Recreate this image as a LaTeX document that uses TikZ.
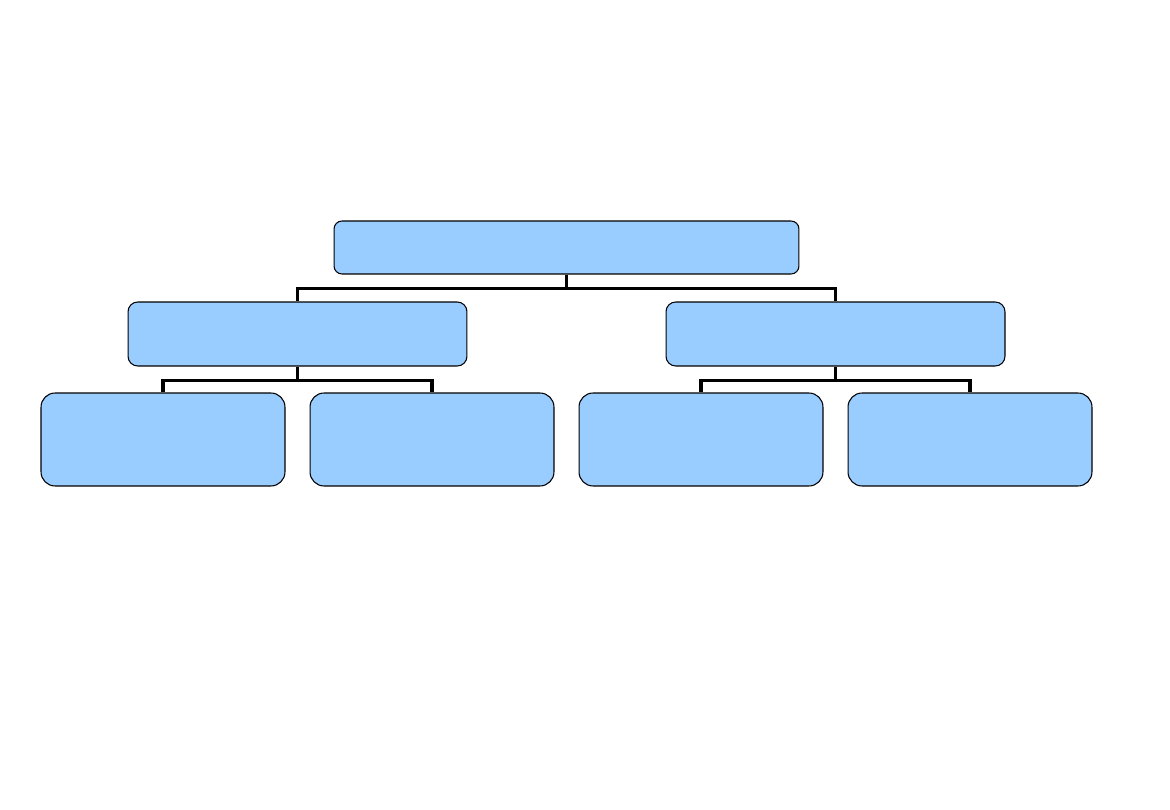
\documentclass[tikz,border=0pt]{standalone}
\usepackage{xcolor}
\definecolor{boxblue}{RGB}{153,204,255}
\usepackage{tikz}
\usetikzlibrary{positioning,calc}
\tikzset{
  unit/.style={rectangle,draw,line width=0.6pt,fill=boxblue,inner sep=0pt},
  head/.style={unit,rounded corners=4.5pt,minimum width=9.3cm,minimum height=1.06cm},
  branch/.style={unit,rounded corners=5.5pt,minimum width=6.78cm,minimum height=1.28cm},
  leaf/.style={unit,rounded corners=8pt,minimum width=4.88cm,minimum height=1.86cm},
  link/.style={draw,line width=2pt}
}
\begin{document}
\begin{tikzpicture}[x=0.02cm,y=-0.02cm]
  \useasboundingbox (0,0) rectangle (1170,810);

  \node[head] (top) at (566.5,247.5) {};
  \node[branch] (left) at (297.5,334) {};
  \node[branch] (right) at (835.5,334) {};
  \node[leaf] (la) at (163,439.5) {};
  \node[leaf] (lb) at (432,439.5) {};
  \node[leaf] (ra) at (701,439.5) {};
  \node[leaf] (rb) at (970,439.5) {};

  \draw[link] (top.south) -- ++(0,14) -| (left.north);
  \draw[link] (top.south) -- ++(0,14) -| (right.north);
  \draw[link] (left.south) -- ++(0,14) -| (la.north);
  \draw[link] (left.south) -- ++(0,14) -| (lb.north);
  \draw[link] (right.south) -- ++(0,14) -| (ra.north);
  \draw[link] (right.south) -- ++(0,14) -| (rb.north);
\end{tikzpicture}
\end{document}
